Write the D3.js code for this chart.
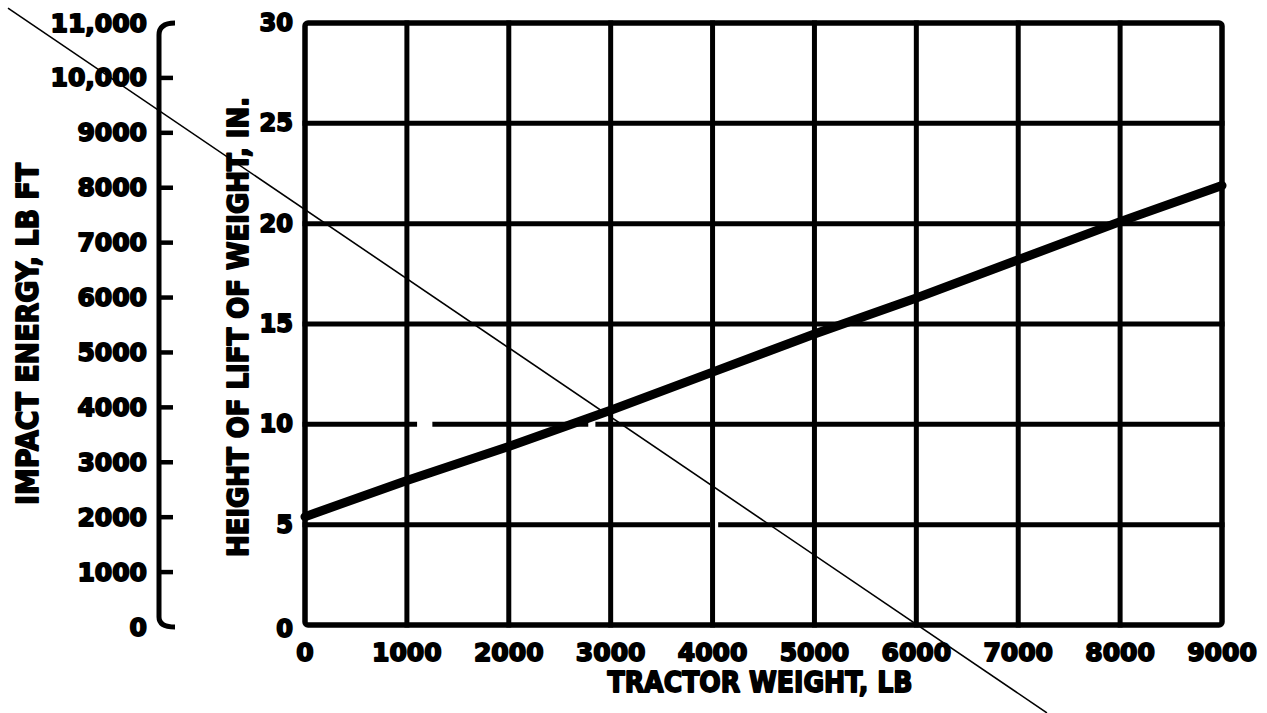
<!DOCTYPE html>
<html>
<head>
<meta charset="utf-8">
<script src="https://cdn.jsdelivr.net/npm/d3@7"></script>
<style>
  html, body { margin: 0; padding: 0; background: #fff; }
  svg text { font-family: "DejaVu Sans", "Liberation Sans", sans-serif; font-weight: bold; fill: #000; stroke: #000; stroke-width: 1.8px; stroke-linejoin: round; }
</style>
</head>
<body>
<svg id="chart" width="1267" height="713"></svg>
<script>
// ---- data ----
const tractorTicks = [0, 1000, 2000, 3000, 4000, 5000, 6000, 7000, 8000, 9000];
const tractorTickLabels = ["0", "1000", "2000", "3000", "4000", "5000", "6000", "7000", "8000", "9000"];
const heightTicks = [0, 5, 10, 15, 20, 25, 30];
const heightTickLabels = ["0", "5", "10", "15", "20", "25", "30"];
const energyTicks = [0, 1000, 2000, 3000, 4000, 5000, 6000, 7000, 8000, 9000, 10000, 11000];
const energyTickLabels = ["0", "1000", "2000", "3000", "4000", "5000", "6000", "7000", "8000", "9000", "10,000", "11,000"];
// main curve: height of lift (in.) vs tractor weight (lb)
const tractorWeight = [0, 1000, 2000, 3000, 4000, 5000, 6000, 7000, 8000, 9000];
const liftHeight = [5.4, 7.2, 8.9, 10.7, 12.6, 14.5, 16.3, 18.2, 20.1, 21.9];
// thin guide line (endpoints in tractor weight / height units, extends beyond the grid)
const guideWeight = [-2915, 7282];
const guideHeight = [30.74, -4.38];
// breaks in the printed horizontal grid lines (height level, weight from, weight to)
const gapHeight = [10, 10, 5];
const gapFrom = [1100, 2780, 3975];
const gapTo = [1250, 2850, 4055];
const xTitle = "TRACTOR WEIGHT, LB";
const yTitle = "HEIGHT OF LIFT OF WEIGHT, IN.";
const eTitle = "IMPACT ENERGY, LB FT";

// ---- scales ----
const svg = d3.select("#chart");
const x = d3.scaleLinear().domain([0, 9000]).range([305, 1222]);
const y = d3.scaleLinear().domain([0, 30]).range([625, 23]);
const yE = d3.scaleLinear().domain([0, 11000]).range([627, 23]);
const energyAxisX = 159;

// ---- grid ----
const grid = svg.append("g").attr("stroke", "#000").attr("stroke-width", 5).attr("stroke-linecap", "square");
grid.selectAll("line.h").data(heightTicks.slice(1, -1)).join("line")
  .attr("x1", x(0)).attr("x2", x(9000))
  .attr("y1", d => y(d)).attr("y2", d => y(d));
svg.append("g").selectAll("line").data(gapHeight).join("line")
  .attr("x1", (d, i) => x(gapFrom[i])).attr("x2", (d, i) => x(gapTo[i]))
  .attr("y1", d => y(d)).attr("y2", d => y(d))
  .attr("stroke", "#fff").attr("stroke-width", 8);
const vgrid = svg.append("g").attr("stroke", "#000").attr("stroke-width", 5).attr("stroke-linecap", "square");
vgrid.selectAll("line").data(tractorTicks.slice(1, -1)).join("line")
  .attr("x1", d => x(d)).attr("x2", d => x(d))
  .attr("y1", y(0)).attr("y2", y(30));
svg.append("rect")
  .attr("x", x(0)).attr("y", y(30))
  .attr("width", x(9000) - x(0)).attr("height", y(0) - y(30))
  .attr("fill", "none").attr("stroke", "#000").attr("stroke-width", 5.5)
  .attr("rx", 3);

// ---- height axis labels ----
svg.append("g").selectAll("text").data(heightTicks).join("text")
  .attr("x", 293)
  .attr("y", d => y(d) + (d === 0 ? 4 : 0))
  .attr("text-anchor", "end")
  .attr("dominant-baseline", "central")
  .attr("font-size", 24)
  .text((d, i) => heightTickLabels[i]);

// ---- tractor axis labels ----
svg.append("g").selectAll("text").data(tractorTicks).join("text")
  .attr("x", d => x(d))
  .attr("y", 652)
  .attr("text-anchor", "middle")
  .attr("dominant-baseline", "central")
  .attr("font-size", 25)
  .text((d, i) => tractorTickLabels[i]);

// ---- energy axis ----
const eTop = yE(11000), eBot = yE(0);
svg.append("path")
  .attr("d", `M${energyAxisX + 16},${eTop} Q${energyAxisX},${eTop} ${energyAxisX},${eTop + 12} L${energyAxisX},${eBot - 10} Q${energyAxisX},${eBot} ${energyAxisX + 16},${eBot}`)
  .attr("fill", "none").attr("stroke", "#000").attr("stroke-width", 5);
svg.append("g").selectAll("line").data(energyTicks.slice(1, -1)).join("line")
  .attr("x1", energyAxisX).attr("x2", energyAxisX + 14)
  .attr("y1", d => yE(d)).attr("y2", d => yE(d))
  .attr("stroke", "#000").attr("stroke-width", 4.5);
svg.append("g").selectAll("text").data(energyTicks).join("text")
  .attr("x", 147)
  .attr("y", d => yE(d))
  .attr("text-anchor", "end")
  .attr("dominant-baseline", "central")
  .attr("font-size", 25)
  .text((d, i) => energyTickLabels[i]);

// ---- titles ----
svg.append("text")
  .attr("x", 760).attr("y", 682)
  .attr("text-anchor", "middle").attr("dominant-baseline", "central")
  .attr("font-size", 29)
  .attr("textLength", 305).attr("lengthAdjust", "spacingAndGlyphs")
  .text(xTitle);
svg.append("text")
  .attr("transform", "translate(238,327) rotate(-90)")
  .attr("text-anchor", "middle").attr("dominant-baseline", "central")
  .attr("font-size", 28)
  .attr("textLength", 460).attr("lengthAdjust", "spacingAndGlyphs")
  .text(yTitle);
svg.append("text")
  .attr("transform", "translate(27,334) rotate(-90)")
  .attr("text-anchor", "middle").attr("dominant-baseline", "central")
  .attr("font-size", 30)
  .attr("textLength", 342).attr("lengthAdjust", "spacingAndGlyphs")
  .text(eTitle);

// ---- main line ----
const pts = tractorWeight.map((w, i) => [w, liftHeight[i]]);
svg.append("path")
  .datum(pts)
  .attr("d", d3.line().x(d => x(d[0])).y(d => y(d[1])))
  .attr("fill", "none").attr("stroke", "#000").attr("stroke-width", 9)
  .attr("stroke-linecap", "round").attr("stroke-linejoin", "round");

// ---- thin guide line ----
const gpts = guideWeight.map((w, i) => [w, guideHeight[i]]);
svg.append("path")
  .datum(gpts)
  .attr("d", d3.line().x(d => x(d[0])).y(d => y(d[1])))
  .attr("fill", "none").attr("stroke", "#000").attr("stroke-width", 1.6);
</script>
</body>
</html>
